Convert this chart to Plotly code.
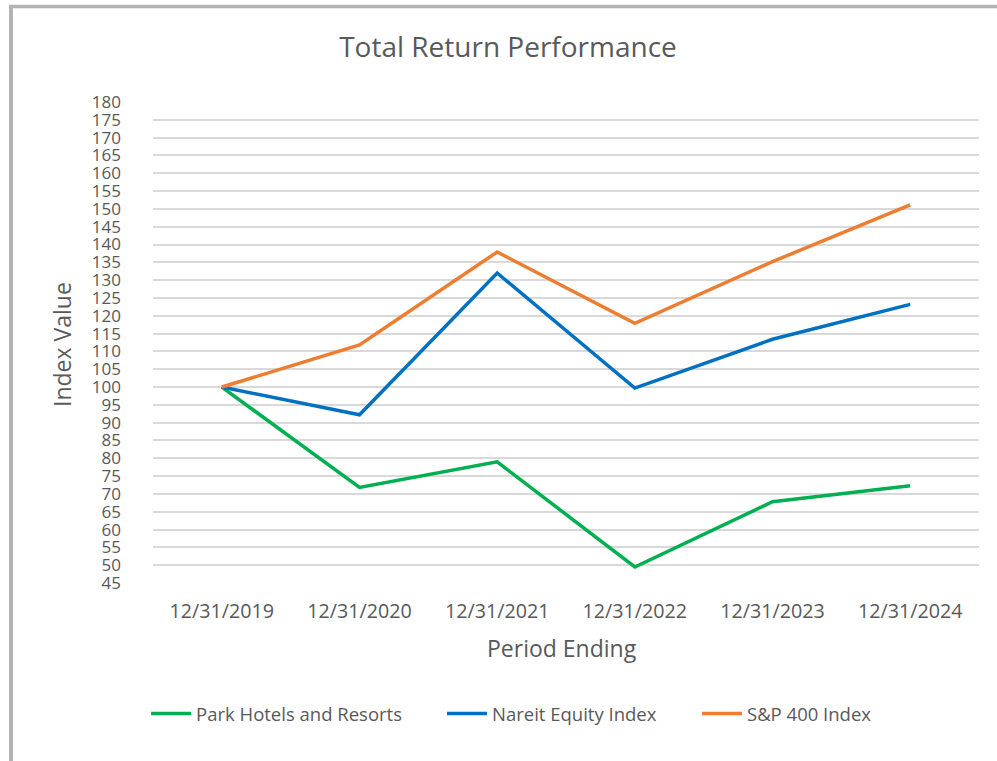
import plotly.graph_objects as go

periods = ["12/31/2019", "12/31/2020", "12/31/2021", "12/31/2022", "12/31/2023", "12/31/2024"]
park = [100, 71.8, 79.0, 49.5, 67.8, 72.3]
nareit = [100, 92.2, 132.0, 99.7, 113.4, 123.2]
sp400 = [100, 111.8, 137.9, 117.9, 135.2, 151.1]
y_ticks = list(range(45, 181, 5))

W, H = 997, 761
L, R, T, B = 153, 18, 102, 178
pw, ph = W - L - R, H - T - B

def px_x(x):
    return (x - L) / pw

def px_y(y):
    return (H - B - y) / ph

font_fam = "Open Sans, Lato, sans-serif"
grey = "#595959"

series = [("Park Hotels and Resorts", park, "#00b050", "legend", 149),
          ("Nareit Equity Index", nareit, "#0070c0", "legend2", 445),
          ("S&P 400 Index", sp400, "#ed7d31", "legend3", 700)]

fig = go.Figure()
legends = {}
for name, vals, col, lg, lx in series:
    fig.add_trace(go.Scatter(x=periods, y=vals, name=name, mode="lines",
                             line=dict(color=col, width=3.5), legend=lg))
    legends[lg] = dict(orientation="h", x=px_x(lx - 3), xanchor="left", y=px_y(714),
                       yanchor="middle", font=dict(family=font_fam, size=18.5, color=grey),
                       bgcolor="rgba(0,0,0,0)", itemwidth=40)

fig.update_layout(
    width=W, height=H,
    margin=dict(l=L, r=R, t=T, b=B, autoexpand=False),
    paper_bgcolor="white", plot_bgcolor="white",
    title=dict(text="Total Return Performance", x=508 / W, xanchor="center",
               y=1 - 47 / H, yanchor="middle",
               font=dict(family=font_fam, size=28, color=grey)),
    xaxis=dict(type="category", range=[-0.5, 5.5], showgrid=False, zeroline=False,
               showline=False, ticks="", ticklabelstandoff=14,
               tickfont=dict(family=font_fam, size=19.7, color=grey)),
    yaxis=dict(range=[45, 180], tickvals=y_ticks, showgrid=True, gridcolor="#d9d9d9",
               gridwidth=1.6, zeroline=False, showline=False, ticks="",
               ticklabelstandoff=31,
               tickfont=dict(family=font_fam, size=17, color=grey)),
    showlegend=True,
    annotations=[
        dict(text="Index Value", xref="paper", yref="paper", x=px_x(62), y=px_y(345),
             xanchor="center", yanchor="middle", textangle=-90, showarrow=False,
             font=dict(family=font_fam, size=23, color=grey)),
        dict(text="Period Ending", xref="paper", yref="paper", x=px_x(562), y=px_y(648),
             xanchor="center", yanchor="middle", showarrow=False,
             font=dict(family=font_fam, size=23, color=grey)),
    ],
    shapes=[
        dict(type="line", xref="paper", yref="paper", x0=px_x(11), x1=px_x(11),
             y0=px_y(5), y1=px_y(770), line=dict(color="#b3b3b3", width=4)),
        dict(type="line", xref="paper", yref="paper", x0=px_x(9), x1=px_x(1005),
             y0=px_y(6.5), y1=px_y(6.5), line=dict(color="#b3b3b3", width=3.5)),
    ],
    **legends,
)
fig.write_html("out.html", config={"displayModeBar": False},
               post_script="document.body.style.margin='0';document.body.style.overflow='hidden';")
